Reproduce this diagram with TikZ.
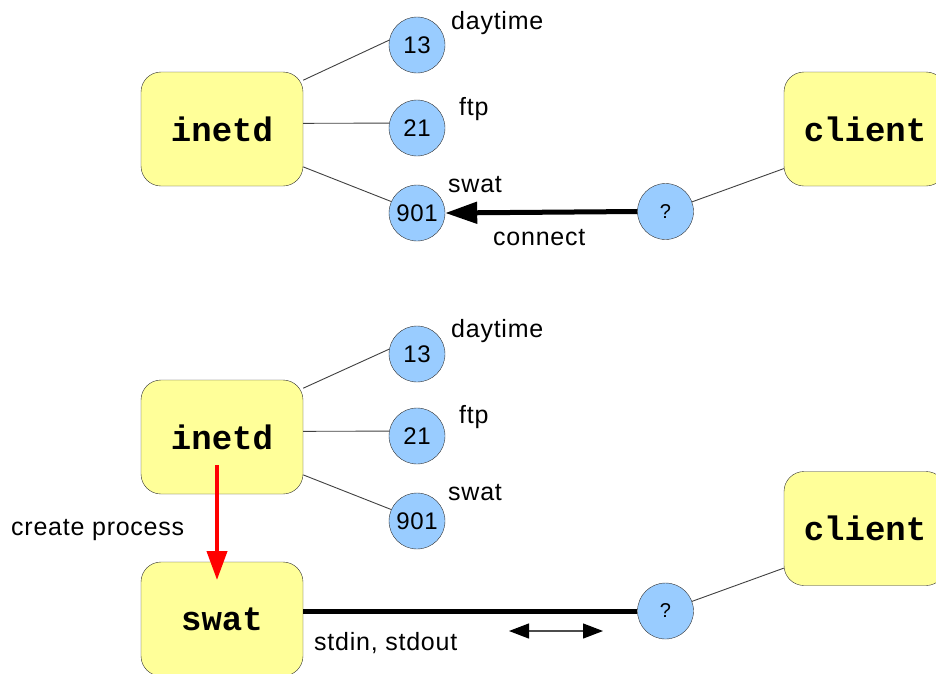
\documentclass[tikz,border=0pt]{standalone}
\usepackage{fontspec}
\setmainfont{Liberation Sans}[LetterSpace=3]
\newfontfamily\monofont{Liberation Mono}
\usetikzlibrary{arrows.meta}
\definecolor{boxyellow}{HTML}{FFFF99}
\definecolor{portblue}{HTML}{99CCFF}
\begin{document}
\begin{tikzpicture}[x=1pt,y=-1pt,
  proc/.style={draw=black!80, fill=boxyellow, rounded corners=20pt, minimum width=162pt, minimum height=114pt, inner sep=0pt, font=\monofont\bfseries\fontsize{34}{40}\selectfont},
  port/.style={circle, draw=black!80, fill=portblue, minimum size=56pt, inner sep=0pt, font=\fontsize{24}{26}\selectfont},
  qport/.style={port, font=\fontsize{20}{24}\selectfont},
  lbl/.style={anchor=base west, inner sep=0pt, font=\fontsize{25}{28}\selectfont},
  link/.style={draw=black!75, line width=0.9pt},
  heavy/.style={line width=5pt}
]
\useasboundingbox (0,0) rectangle (936,673);

% ---- top part ----
\node[proc] (inetdA) at (222,129) {inetd};
\node[proc] (clientA) at (865,129) {client};
\node[port] (p13A) at (417,45) {13};
\node[port] (p21A) at (417,128) {21};
\node[port] (p901A) at (417,213) {901};
\node[qport] (qA) at (665.5,211.5) {?};

\draw[link] (inetdA.31) -- (p13A.170);
\draw[link] (inetdA.4) -- (p21A.170);
\draw[link] (inetdA.-25) -- (p901A.156);
\draw[link] (qA.20) -- (clientA.206);
\draw[heavy, -{Triangle[length=32pt,width=21pt]}] (qA.west) -- (p901A.east);

\node[lbl] (ldayA) at (451,29) {daytime};
\node[lbl] (lftpA) at (459,115) {ftp};
\node[lbl] (lswatA) at (448,192) {swat};
\node[lbl] (lconn) at (493,245) {connect};

% ---- bottom part ----
\node[proc] (inetdB) at (222,437) {inetd};
\node[proc] (clientB) at (865,528.5) {client};
\node[proc] (swat) at (222,619) {swat};
\node[port] (p13B) at (417,354) {13};
\node[port] (p21B) at (417,436) {21};
\node[port] (p901B) at (417,521) {901};
\node[qport] (qB) at (665.5,611) {?};

\draw[link] (inetdB.31) -- (p13B.170);
\draw[link] (inetdB.4) -- (p21B.170);
\draw[link] (inetdB.-25) -- (p901B.156);
\draw[link] (qB.20) -- (clientB.206);
\draw[heavy] (swat.east |- qB.west) -- (qB.west);
\draw[red, line width=4pt, -{Triangle[length=29pt,width=20pt]}]
  ([xshift=-5pt,yshift=-28pt]inetdB.center) -- ([xshift=-5pt,yshift=39pt]swat.center);

\coordinate (dl) at (509,631);
\coordinate (dr) at (603,631);
\draw[draw=black!70, line width=1.2pt, {Triangle[length=20pt,width=15pt,color=black]}-{Triangle[length=20pt,width=15pt,color=black]}] (dl) -- (dr);

\node[lbl] (ldayB) at (451,337) {daytime};
\node[lbl] (lftpB) at (459,423) {ftp};
\node[lbl] (lswatB) at (448,500) {swat};
\node[lbl] (lcreate) at (11,535) {create process};
\node[lbl] (lstd) at (314,650) {stdin, stdout};
\end{tikzpicture}
\end{document}
